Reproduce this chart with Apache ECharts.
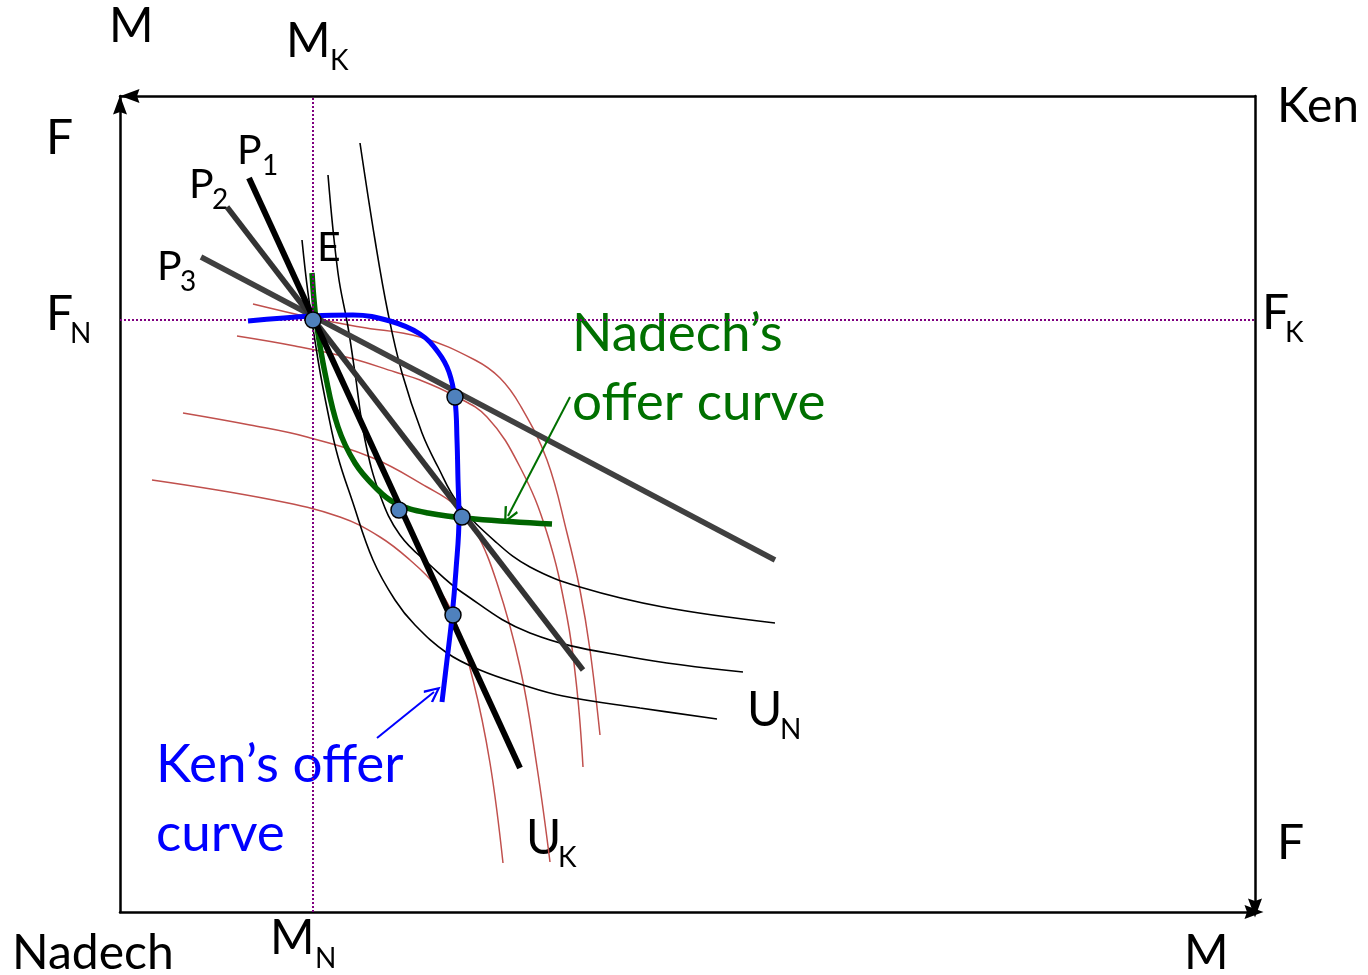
<!DOCTYPE html>
<html><head><meta charset="utf-8">
<script src="https://cdn.jsdelivr.net/npm/echarts@6/dist/echarts.min.js"></script>
<style>html,body{margin:0;padding:0;background:#fff}#c{width:1368px;height:975px}</style>
</head><body><div id="c"></div>
<script>
// Edgeworth box: x = Nadech's M, y = Nadech's F (Ken's measured from the opposite corner)
const boxM = 1135, boxF = 816;
const endowmentE = [[193, 592]];
const priceP1 = [[129, 734], [400, 144]];
const priceP2 = [[107, 705], [463, 242]];
const priceP3 = [[81, 655], [655, 352]];
const equilibriumDots = [[193, 592], [335, 515], [279, 402], [342, 395], [333, 297]];

// Ken's indifference curves (U_K)
const uK1 = [[133,608],[193,594],[240,585],[300,575],[355,552],[380,534],[400,507],[427,452],[447,379],[460,322],[470,262],[480,177]];
const uK2 = [[117,576],[175,566],[230,554],[275,540],[300,532],[333,517],[367,495],[400,445],[427,379],[447,295],[457,222],[463,145]];
const uK3 = [[63,499],[130,487],[187,475],[253,454],[307,425],[335,407],[355,382],[377,329],[400,245],[417,145],[430,50]];
const uK4 = [[32,432],[153,412],[220,395],[260,375],[290,352],[315,327],[333,297],[353,232],[370,149],[383,49]];

// Nadech's indifference curves (U_N)
const uN1 = [[182,672],[188,619],[198,552],[208,499],[218,455],[232,412],[253,352],[275,312],[295,287],[327,259],[360,242],[400,228],[443,216],[520,204],[597,193]];
const uN2 = [[208,737],[218,639],[228,585],[235,539],[245,472],[260,417],[280,377],[310,347],[343,319],[410,279],[510,255],[623,240]];
const uN3 = [[240,769],[255,672],[268,599],[282,539],[302,479],[318,445],[338,409],[377,369],[410,345],[460,325],[543,305],[655,289]];

// Offer curves
const kenOffer = [[128,591],[193,596],[233,597],[270,591],[300,578],[318,560],[329,540],[335,512],[337,472],[338,432],[339,395],[336,342],[332,295],[327,252],[322,210]];
const nadechOffer = [[192,639],[194,612],[197,585],[205,539],[218,485],[235,449],[255,425],[275,409],[308,399],[355,393],[432,388]];

// Annotation arrows [from, to]
const nadechArrow = [[450, 515], [388, 396]];
const kenArrow = [[257, 174], [314, 220]];

const chevron = 'path://M50,0 L100,88 L87,96 L50,28 L13,96 L0,88 Z';
const FONT = 'Lato, "Open Sans", sans-serif';

function line(data, color, width, z, smooth) {
  return { type: 'line', data: data, showSymbol: false, symbol: 'none', smooth: smooth === undefined ? 0.4 : smooth,
    lineStyle: { color: color, width: width, cap: 'butt' }, z: z, silent: true, animation: false };
}
function arrow(a, color) {
  return { type: 'line', data: [], z: 6, silent: true, animation: false,
    markLine: { silent: true, animation: false, symbol: ['none', chevron], symbolSize: [15, 17],
      label: { show: false }, lineStyle: { color: color, width: 2, type: 'solid' },
      data: [[{ coord: a[0] }, { coord: a[1] }]] } };
}
function txt(t, x, y, size, color) {
  return { type: 'text', x: x, y: y, silent: true,
    style: { text: t, fill: color || '#000', font: size + 'px ' + FONT,
      align: 'left', verticalAlign: 'middle', textAlign: 'left', textVerticalAlign: 'middle' } };
}
const BIG = 48, SUB = 28, GREEN = '#007000', BLUE = '#0000ff';
const AX = { color: '#000', width: 2.5 };
const ARROW = 'path://M70,0 L140,190 L70,165 L0,190 Z';
const ARROW_SIZE = [14, 19];

const axisCommon = { type: 'value', min: 0, axisTick: { show: false }, axisLabel: { show: false }, splitLine: { show: false } };
const option = {
  animation: false,
  backgroundColor: '#fff',
  grid: { left: 120, top: 96, width: 1135, height: 816 },
  xAxis: [
    Object.assign({}, axisCommon, { max: boxM, position: 'bottom',
      axisLine: { show: true, onZero: false, symbol: ['none', ARROW], symbolSize: ARROW_SIZE, symbolOffset: [0, -1], lineStyle: AX } }),
    Object.assign({}, axisCommon, { max: boxM, position: 'top',
      axisLine: { show: true, onZero: false, symbol: [ARROW, 'none'], symbolSize: ARROW_SIZE, symbolOffset: [10, 0], lineStyle: AX } })
  ],
  yAxis: [
    Object.assign({}, axisCommon, { max: boxF, position: 'left',
      axisLine: { show: true, onZero: false, symbol: ['none', ARROW], symbolSize: ARROW_SIZE, symbolOffset: [0, -9], lineStyle: AX } }),
    Object.assign({}, axisCommon, { max: boxF, position: 'right',
      axisLine: { show: true, onZero: false, symbol: [ARROW, 'none'], symbolSize: ARROW_SIZE, symbolOffset: [4, 0], lineStyle: AX } })
  ],
  series: [
    { type: 'line', data: [], silent: true, z: 1,
      markLine: { silent: true, symbol: 'none', label: { show: false }, animation: false,
        lineStyle: { color: '#800080', width: 2, type: [2, 2] },
        data: [ { xAxis: endowmentE[0][0] }, { yAxis: endowmentE[0][1] } ] } },
    line(uK1, '#c0504d', 1.5, 2), line(uK2, '#c0504d', 1.5, 2), line(uK3, '#c0504d', 1.5, 2), line(uK4, '#c0504d', 1.5, 2),
    line(uN1, '#000', 1.6, 2), line(uN2, '#000', 1.6, 2), line(uN3, '#000', 1.6, 2),
    line(nadechOffer, '#006400', 5.5, 3),
    line(priceP3, '#404040', 5.5, 4, false), line(priceP2, '#333333', 5.5, 4, false), line(priceP1, '#000', 6, 4, false),
    line(kenOffer, BLUE, 5, 5),
    arrow(nadechArrow, GREEN), arrow(kenArrow, BLUE),
    { type: 'scatter', data: equilibriumDots, symbolSize: 16, z: 7, silent: true, animation: false,
      itemStyle: { color: '#4f81bd', borderColor: '#000', borderWidth: 1.5, opacity: 1 } }
  ],
  graphic: [
    txt('M', 109, 27, BIG), txt('M', 286, 42, BIG), txt('K', 330, 61, SUB),
    txt('Ken', 1277, 107, BIG),
    txt('F', 46, 139, BIG),
    txt('F', 46, 315, BIG), txt('N', 70, 334, SUB),
    txt('F', 1262, 314, BIG), txt('K', 1285, 333, SUB),
    txt('F', 1277, 844, BIG),
    txt('Nadech', 12, 954, BIG),
    txt('M', 270, 939, BIG), txt('N', 315, 959, SUB),
    txt('M', 1184, 954, BIG),
    txt('P', 237, 151, 41), txt('1', 262, 166, SUB),
    txt('P', 189, 185, 41), txt('2', 212, 200, SUB),
    txt('P', 157, 267, 41), txt('3', 180, 282, SUB),
    txt('E', 317, 248, 41),
    txt('Nadech’s', 572, 334, 53, GREEN), txt('offer curve', 572, 403, 53, GREEN),
    txt('Ken’s offer', 156, 765, 53, BLUE), txt('curve', 156, 834, 53, BLUE),
    txt('U', 747, 711, BIG), txt('N', 780, 730, SUB),
    txt('U', 526, 839, BIG), txt('K', 558, 858, SUB)
  ]
};
echarts.init(document.getElementById('c'), null, { renderer: 'canvas' }).setOption(option);
</script></body></html>
